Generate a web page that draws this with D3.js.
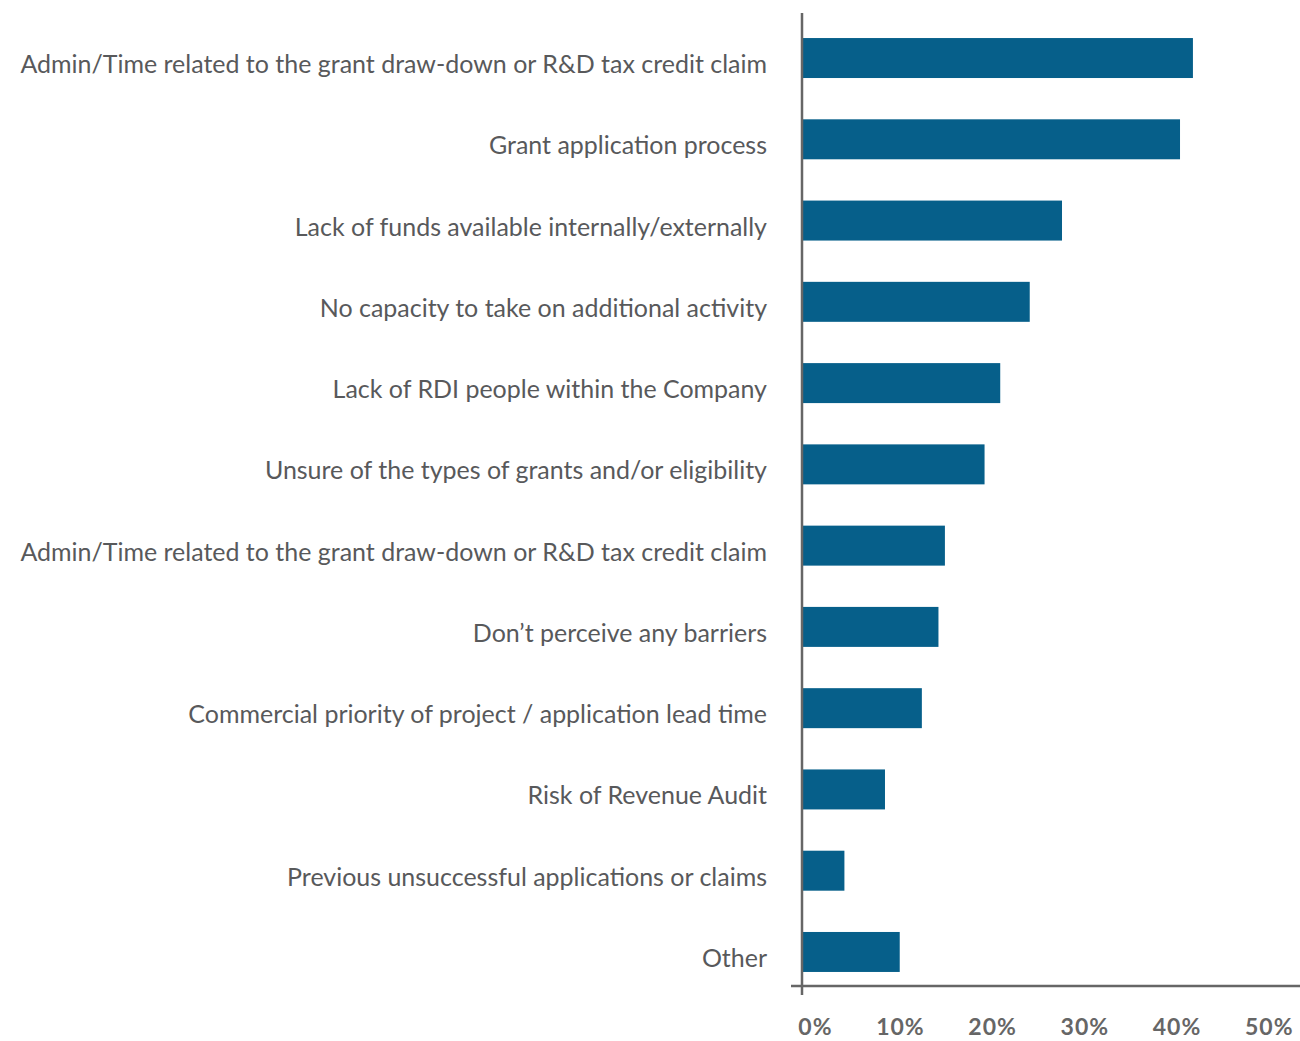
<!DOCTYPE html>
<html>
<head>
<meta charset="utf-8">
<script src="https://cdn.jsdelivr.net/npm/d3@7"></script>
<style>
  html, body { margin: 0; padding: 0; background: #fff; }
  svg { display: block; }
</style>
</head>
<body>
<svg id="chart" width="1300" height="1041"></svg>
<script>
// Barriers to accessing grants / R&D tax credits (% of respondents)
const categories = [
  "Admin/Time related to the grant draw-down or R&D tax credit claim",
  "Grant application process",
  "Lack of funds available internally/externally",
  "No capacity to take on additional activity",
  "Lack of RDI people within the Company",
  "Unsure of the types of grants and/or eligibility",
  "Admin/Time related to the grant draw-down or R&D tax credit claim",
  "Don\u2019t perceive any barriers",
  "Commercial priority of project / application lead time",
  "Risk of Revenue Audit",
  "Previous unsuccessful applications or claims",
  "Other"
];
const values = [42.4, 41.0, 28.2, 24.7, 21.5, 19.8, 15.5, 14.8, 13.0, 9.0, 4.6, 10.6];
const ticks = [0, 10, 20, 30, 40, 50];

const svg = d3.select("#chart");
const barColor = "#065f8a";
const axisColor = "#666666";
const textColor = "#58595b";
const labelFont = "Lato, 'Open Sans', sans-serif";

const x0 = 802;
const x = d3.scaleLinear().domain([0, 50]).range([x0, x0 + 461]);
const y = d3.scaleBand()
  .domain(d3.range(categories.length))
  .range([17.4, 992.6])
  .paddingInner(0.508)
  .paddingOuter(0.254);

// Bars
svg.append("g").selectAll("rect")
  .data(values)
  .join("rect")
  .attr("x", x(0) + 1)
  .attr("y", (d, i) => y(i))
  .attr("width", d => x(d) - x(0) - 1)
  .attr("height", y.bandwidth())
  .attr("fill", barColor);

// Category labels, right-aligned against the axis
const labels = svg.append("g").selectAll("text")
  .data(categories)
  .join("text")
  .attr("x", 767)
  .attr("y", (d, i) => y(i) + y.bandwidth() / 2 + 15)
  .attr("text-anchor", "end")
  .attr("fill", textColor)
  .attr("font-family", labelFont)
  .attr("font-size", 24)
  .text(d => d);

// Size the label font so the longest label spans the left panel
const longest = d3.max(labels.nodes(), n => n.getComputedTextLength());
labels.attr("font-size", 24 * 747 / longest);

// Value axis
const xAxis = d3.axisBottom(x)
  .tickValues(ticks)
  .tickSize(0)
  .tickFormat(d => d + "%");
const ax = svg.append("g")
  .attr("transform", "translate(0,986)")
  .call(xAxis);
ax.select(".domain").remove();
ax.selectAll("text")
  .attr("text-anchor", "end")
  .attr("dx", 30)
  .attr("dy", 0)
  .attr("y", 49)
  .attr("fill", "#666666")
  .attr("font-family", "Lato, sans-serif")
  .attr("font-weight", 700)
  .attr("font-size", 23)
  .attr("letter-spacing", 1);

// Axis lines
svg.append("line")
  .attr("x1", 791).attr("x2", 1300)
  .attr("y1", 986).attr("y2", 986)
  .attr("stroke", axisColor).attr("stroke-width", 2.5);
svg.append("line")
  .attr("x1", x0).attr("x2", x0)
  .attr("y1", 13).attr("y2", 995)
  .attr("stroke", axisColor).attr("stroke-width", 2.5);
</script>
</body>
</html>
